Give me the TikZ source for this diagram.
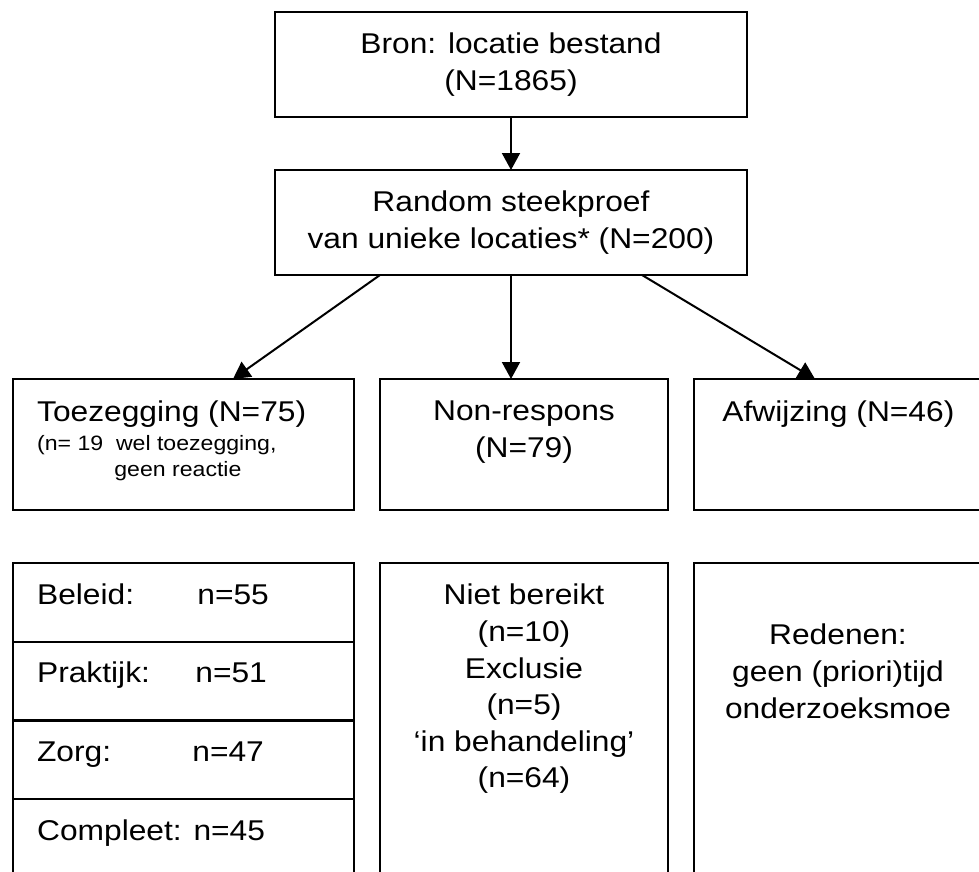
\documentclass[tikz,border=0pt]{standalone}
\usepackage{fontspec}
\setmainfont{Liberation Sans}[FakeStretch=1.11]
\usetikzlibrary{arrows.meta,positioning,calc}

\begin{document}
\begin{tikzpicture}[node distance=1cm, auto,]
\tikzset{
    %Define standard arrow tip
    >={Triangle[width=9pt,length=8.5pt]},
    %Define style for boxes
    blok/.style={
           rectangle,
           draw=black, line width=1.1pt,
           outer sep=0pt,
           align=center,
           font=\fontsize{14.3pt}{18.3pt}\selectfont},
    % Define style for text in the boxes
    tekst/.style={
           inner sep=0pt,
           align=center,
           font=\fontsize{14.3pt}{18.3pt}\selectfont},
    klein/.style={
           inner sep=0pt,
           font=\fontsize{10.4pt}{12.85pt}\selectfont},
    % Define arrow style
    pijl/.style={
           ->,
           line width=1pt}
}
 % fixed page size
 \useasboundingbox (0,0) rectangle (489.5pt,-436pt);
 %nodes
 \node[blok, minimum width=236pt, minimum height=52.5pt] (bron)
   at (255.5pt,-32.25pt) {Bron: locatie bestand\\(N=1865)};
 \node[blok, minimum width=236pt, minimum height=52.5pt, below=26.5pt of bron]
 (random) {Random steekproef\\van unieke locaties* (N=200)};
 % third row, the middle one first
 \node[blok, minimum width=144pt, minimum height=65.5pt,
   below=52pt of random, xshift=6.5pt] (nonresp) {};
 \node[blok, minimum width=170.5pt, minimum height=65.5pt,
   left=13pt of nonresp] (toez) {};
 \node[blok, minimum width=144pt, minimum height=65.5pt,
   right=13pt of nonresp] (afw) {};
 % texts of the third row
 \node[tekst, anchor=base west] (toeztxt)
   at ([xshift=11.85pt,yshift=-21pt]toez.north west) {Toezegging (N=75)};
 \node[klein, anchor=base west] (toezsub)
   at ([yshift=-14.65pt]toeztxt.base west) {(n= 19\ \ wel toezegging,};
 \node[klein, anchor=base west] (toezsubb)
   at ([xshift=38.65pt,yshift=-12.85pt]toezsub.base west) {geen reactie};
 \node[tekst, anchor=north] (nonresptxt)
   at ([yshift=-10.7pt]nonresp.north) {Non-respons\\(N=79)};
 \node[tekst, anchor=base west] (afwtxt)
   at ([xshift=14pt,yshift=-21pt]afw.north west) {Afwijzing (N=46)};
 % bottom row: table on the left
 \node[blok, minimum width=170.5pt, minimum height=39.375pt,
   below=26.5pt of toez] (beleid) {};
 \node[blok, minimum width=170.5pt, minimum height=39.375pt,
   below=0pt of beleid] (praktijk) {};
 \node[blok, minimum width=170.5pt, minimum height=39.375pt,
   below=0pt of praktijk] (zorg) {};
 \node[blok, minimum width=170.5pt, minimum height=39.375pt,
   below=0pt of zorg] (compleet) {};
 \node[tekst, anchor=base west] at ([xshift=11.85pt,yshift=-20.5pt]beleid.north west) {Beleid:};
 \node[tekst, anchor=base west] at ([xshift=92pt,yshift=-20.5pt]beleid.north west) {n=55};
 \node[tekst, anchor=base west] at ([xshift=11.85pt,yshift=-20.5pt]praktijk.north west) {Praktijk:};
 \node[tekst, anchor=base west] at ([xshift=91pt,yshift=-20.5pt]praktijk.north west) {n=51};
 \node[tekst, anchor=base west] at ([xshift=11.85pt,yshift=-20.5pt]zorg.north west) {Zorg:};
 \node[tekst, anchor=base west] at ([xshift=89.5pt,yshift=-20.5pt]zorg.north west) {n=47};
 \node[tekst, anchor=base west] at ([xshift=11.85pt,yshift=-20.5pt]compleet.north west) {Compleet: n=45};
 % bottom row: middle and right
 \node[blok, minimum width=144pt, minimum height=157.5pt,
   below=26.5pt of nonresp] (redenen-nr) {};
 \node[tekst, anchor=north] at ([yshift=-10.35pt]redenen-nr.north)
   {Niet bereikt\\(n=10)\\Exclusie\\(n=5)\\‘in behandeling’\\(n=64)};
 \node[blok, minimum width=144pt, minimum height=157.5pt,
   below=26.5pt of afw] (redenen-afw) {};
 \node[tekst, anchor=north] at ([yshift=-30.35pt]redenen-afw.north)
   {Redenen:\\geen (priori)tijd\\onderzoeksmoe};
 % arrows
 \draw[pijl] (bron) -- (random);
 \draw[pijl] ([xshift=52.5pt]random.south west) -- ([xshift=110pt]toez.north west);
 \draw[pijl] (random.south) -- (random.south |- nonresp.north);
 \draw[pijl] ([xshift=-52.5pt]random.south east) -- ([xshift=60.5pt]afw.north west);
\end{tikzpicture}
\end{document}
